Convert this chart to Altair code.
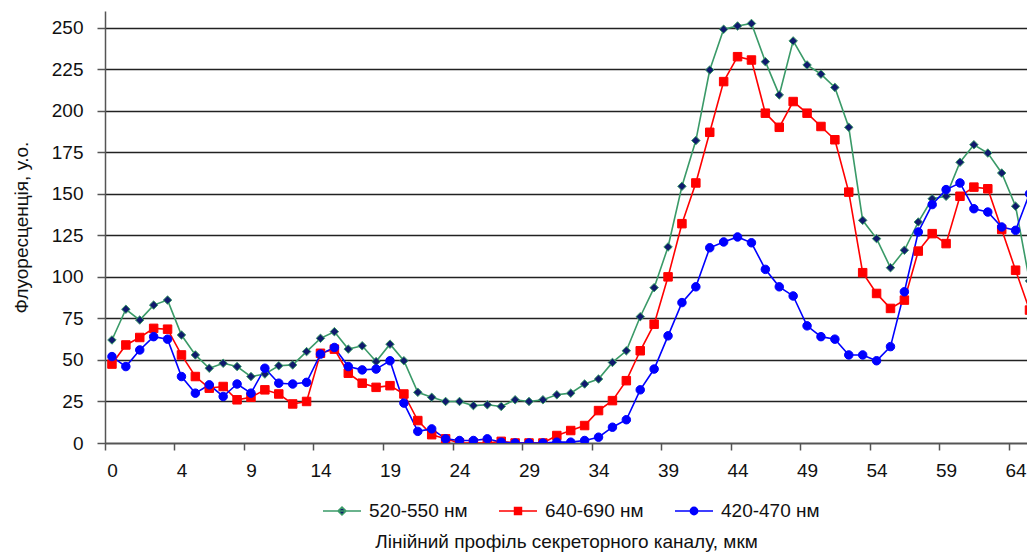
import altair as alt
import pandas as pd

# category index along the profile (Excel category axis)
idx = list(range(67))

green = [62, 80.5, 74, 83, 86, 65, 53, 45, 48, 46, 40, 41.5, 46.5, 47, 55, 63, 67, 56.5, 58.5, 49,
         59.5, 49.5, 30.5, 27.5, 25, 25, 22.5, 23, 22, 26, 25, 26, 29, 30, 35.5, 38.5, 48.5, 55.5, 76, 93.5,
         118, 154.5, 182, 224.5, 249, 251, 252.5, 229.5, 209.5, 242, 227.5, 222, 214, 190, 134, 123, 105.5, 116, 133, 147,
         148.5, 169, 179.5, 174.5, 162.5, 142.5, 97.5]
red = [47.5, 59, 63.5, 69, 68.5, 53, 40, 33, 34, 26, 27.5, 32, 29.5, 23.5, 25, 54, 56.5, 42, 36, 33.5,
       34.5, 29.5, 13.5, 5, 2.5, 0, 0, 0, 1, 0, 0, 0, 4.5, 7.5, 10.5, 19.5, 25.5, 37.5, 55.5, 71.5,
       100, 132, 156.5, 187, 217.5, 232.5, 230.5, 198.5, 190, 205.5, 198.5, 190.5, 182.5, 151, 102.5, 90, 81, 86, 115.5, 126,
       120, 148.5, 154, 153, 128.5, 104, 80]
blue = [52, 46, 56, 64, 62.5, 40, 30, 35, 28, 35.5, 30, 45, 36, 35.5, 36.5, 53.5, 57.5, 46, 44, 44.5,
        49.5, 24, 7, 8.5, 2.5, 1.5, 1.5, 2.5, 0.5, 0, 0, 0, 0.5, 0.5, 1.5, 3.5, 9.5, 14, 32, 44.5,
        64.5, 84.5, 94, 117.5, 121, 124, 120.5, 104.5, 94, 88.5, 70.5, 64, 62.5, 53, 53, 49.5, 58, 91, 127, 143.5,
        152.5, 156.5, 141, 139, 130, 128, 150]

series_names = ["520-550 нм", "640-690 нм", "420-470 нм"]
line_colors = ["#3a9a68", "#ff0000", "#0000ff"]
fill_colors = ["#101a6e", "#ff0000", "#0000ff"]
point_shapes = ["diamond", "square", "circle"]
legend_shapes = [
    "M-1,0L1,0M0,-0.21L0.21,0L0,0.21L-0.21,0Z",
    "M-1,0L1,0M-0.18,-0.18L0.18,-0.18L0.18,0.18L-0.18,0.18Z",
    "M-1,0L1,0M-0.19,0A0.19,0.19,0,1,0,0.19,0A0.19,0.19,0,1,0,-0.19,0Z",
]

tick_pos = [0, 5, 10, 15, 20, 25, 30, 35, 40, 45, 50, 55, 60, 65]
tick_labels = ["0", "4", "9", "14", "19", "24", "29", "34", "39", "44", "49", "54", "59", "64"]
y_ticks = [0, 25, 50, 75, 100, 125, 150, 175, 200, 225, 250]

rows = []
for name, vals in zip(series_names, [green, red, blue]):
    for i, v in zip(idx, vals):
        rows.append({"i": i, "value": v, "series": name})
df = pd.DataFrame(rows)

FONT = "Liberation Sans"
label_expr = "[" + ",".join("'" + t + "'" for t in tick_labels) + "][round(datum.value/5)]"

x_enc = alt.X(
    "i:Q",
    scale=alt.Scale(domain=[-0.5, 65.82], nice=False, zero=False),
    axis=alt.Axis(
        values=tick_pos, labelExpr=label_expr, tickOffset=-7, labelOffset=7,
        grid=False, title="Лінійний профіль секреторного каналу, мкм",
        titleFont=FONT, titleFontSize=19, titleFontWeight="normal", titleColor="#111",
        titlePadding=52, labelFont=FONT, labelFontSize=19, labelColor="#111",
        labelPadding=11, tickSize=7, tickColor="#555", tickWidth=1.5,
        domainColor="#555", domainWidth=1.5, labelFlush=False, labelOverlap=False,
    ),
)
y_enc = alt.Y(
    "value:Q",
    scale=alt.Scale(domain=[0, 260], nice=False),
    axis=alt.Axis(
        values=y_ticks, grid=True, gridColor="#222", gridWidth=1.3,
        title="Флуоресценція, у.о.", titleFont=FONT, titleFontSize=19,
        titleFontWeight="normal", titleColor="#111", titlePadding=20,
        labelFont=FONT, labelFontSize=19, labelColor="#111", labelPadding=14,
        tickSize=8, tickColor="#555", tickWidth=1.5, domainColor="#555", domainWidth=1.5,
    ),
)

stroke_scale = alt.Scale(domain=series_names, range=line_colors)
fill_scale = alt.Scale(domain=series_names, range=fill_colors)

lines = alt.Chart(df).mark_line(strokeWidth=1.6, clip=True).encode(
    x=x_enc, y=y_enc,
    stroke=alt.Stroke("series:N", scale=stroke_scale, legend=None, sort=series_names),
    detail="series:N",
)

points = alt.Chart(df).mark_point(filled=True, opacity=1, size=72, strokeWidth=1, clip=True).encode(
    x=x_enc, y=y_enc,
    stroke=alt.Stroke("series:N", scale=stroke_scale, legend=None),
    fill=alt.Fill("series:N", scale=fill_scale, legend=None),
    shape=alt.Shape("series:N", scale=alt.Scale(domain=series_names, range=point_shapes), legend=None),
)

leg = alt.Legend(
    orient="none", legendX=217, legendY=480, direction="horizontal", title=None,
    symbolSize=1444, symbolStrokeWidth=1.6, labelFont=FONT, labelFontSize=19,
    labelColor="#111", labelOffset=7, columnPadding=27, padding=0,
)
legend_layer = alt.Chart(df).transform_filter("false").mark_point(filled=True, opacity=1).encode(
    stroke=alt.Stroke("series:N", scale=alt.Scale(domain=series_names, range=line_colors), legend=leg),
    fill=alt.Fill("series:N", scale=alt.Scale(domain=series_names, range=fill_colors), legend=leg),
    shape=alt.Shape("series:N", scale=alt.Scale(domain=series_names, range=legend_shapes), legend=leg),
)

chart = alt.layer(lines, points, legend_layer).resolve_scale(
    stroke="independent", fill="independent", shape="independent"
).properties(
    width=922, height=432,
    autosize=alt.AutoSizeParams(type="none"),
    padding={"left": 97, "top": 3, "right": 0, "bottom": 110},
    background="white",
).configure_view(stroke=None)

chart.save("out.html", embed_options={"renderer": "svg", "actions": False})
